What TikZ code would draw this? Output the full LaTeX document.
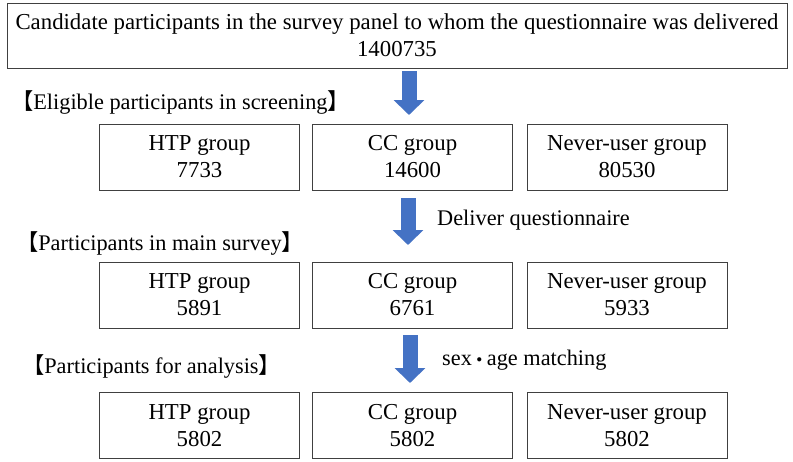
\documentclass[tikz,border=0pt]{standalone}
\usepackage{fontspec}
\setmainfont{Liberation Serif}
\newfontfamily\cjk[RawFeature=+halt]{Noto Sans CJK JP}
\newfontfamily\cjkdot{Noto Sans CJK JP}
\usetikzlibrary{arrows.meta}
\definecolor{arrowblue}{HTML}{4472C4}
\definecolor{boxline}{HTML}{404040}
\tikzset{
  box/.style={draw=boxline, line width=1pt, minimum width=200pt, minimum height=66pt, align=center, inner sep=0pt, font=\fontsize{22.8}{27}\selectfont},
  topbox/.style={box, minimum width=780pt, minimum height=65pt},
  lbl/.style={anchor=west, inner sep=0pt, font=\fontsize{22.3}{27}\selectfont},
  blockarrow/.style={arrowblue, line width=15pt, -{Triangle[width=30pt,length=15pt]}}
}
\begin{document}
\begin{tikzpicture}[x=1pt,y=-1pt]
\useasboundingbox (0,0) rectangle (793,461);
\node[topbox] (top) at (397,35.5) {Candidate participants in the survey panel to whom the questionnaire was delivered\\1400735};

\node[lbl] (l1) at (22,102) {{\cjk 【}Eligible participants in screening{\cjk 】}};
\node[box] (h1) at (199.5,157) {HTP group\\7733};
\node[box] (c1) at (412.5,157) {CC group\\14600};
\node[box] (n1) at (627,157) {Never-user group\\80530};

\node[lbl] (d2) at (437,220) {Deliver questionnaire};
\node[lbl] (l2) at (27,243) {{\cjk 【}Participants in main survey{\cjk 】}};
\node[box] (h2) at (199.5,295) {HTP group\\5891};
\node[box] (c2) at (412.5,295) {CC group\\6761};
\node[box] (n2) at (627,295) {Never-user group\\5933};

\node[lbl] (d3) at (442,360) {sex{\cjkdot\fontsize{15}{15}\selectfont\bfseries ・}age matching};
\node[lbl] (l3) at (33,366) {{\cjk 【}Participants for analysis{\cjk 】}};
\node[box] (h3) at (199.5,425.5) {HTP group\\5802};
\node[box] (c3) at (412.5,425.5) {CC group\\5802};
\node[box] (n3) at (627,425.5) {Never-user group\\5802};

\coordinate (a1s) at (409,71);
\coordinate (a1e) at (409,115);
\coordinate (a2s) at (408,198);
\coordinate (a2e) at (408,245);
\coordinate (a3s) at (410,335);
\coordinate (a3e) at (410,383);
\draw[blockarrow] (a1s) -- (a1e);
\draw[blockarrow] (a2s) -- (a2e);
\draw[blockarrow] (a3s) -- (a3e);
\end{tikzpicture}
\end{document}
